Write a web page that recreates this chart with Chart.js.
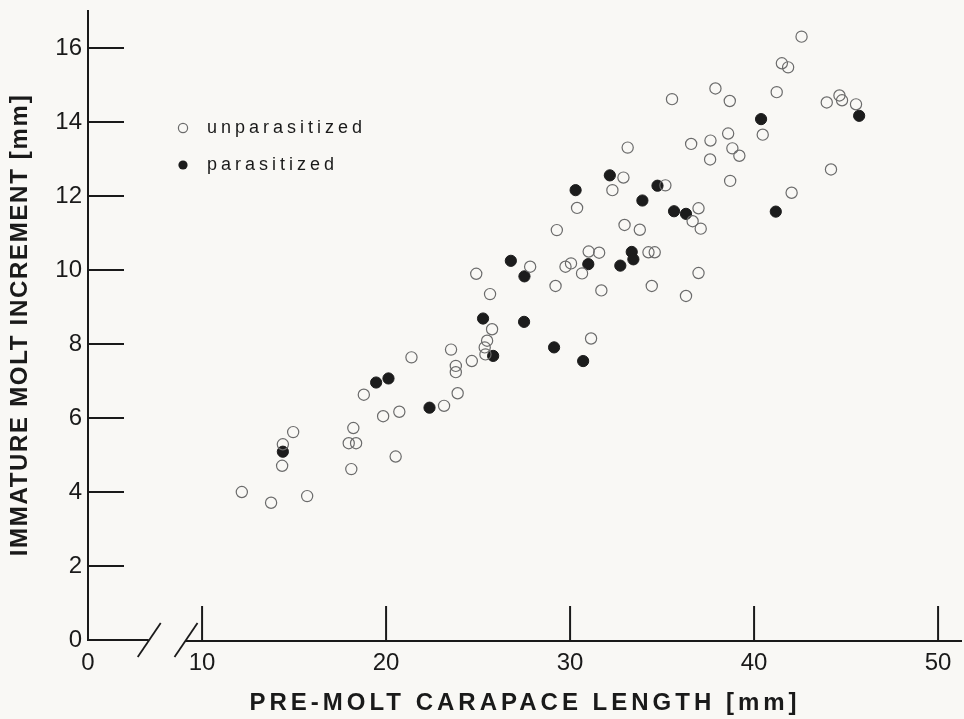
<!DOCTYPE html>
<html>
<head>
<meta charset="utf-8">
<script src="https://cdn.jsdelivr.net/npm/chart.js@4.4.1/dist/chart.umd.min.js"></script>
<style>
html,body{margin:0;padding:0;background:#f9f8f5;}
#wrap{width:964px;height:719px;position:relative;}
</style>
</head>
<body>
<div id="wrap"><canvas id="c" width="964" height="719"></canvas></div>
<script>
// ---- axis definitions ----
const X_ORIGIN = 3.8;            // value sitting at the (broken) origin, labelled "0"
const X_MAX = 51.3;
const Y_MIN = 0;
const Y_MAX = 17.03;
const X_BREAK = [7.1, 9.1];      // gap in the x axis
const xTickValues = [X_ORIGIN, 10, 20, 30, 40, 50];
const xTickLabels = ['0', '10', '20', '30', '40', '50'];
const yTickValues = [0, 2, 4, 6, 8, 10, 12, 14, 16];
const yTickLabels = ['0', '2', '4', '6', '8', '10', '12', '14', '16'];
const xTitle = 'PRE-MOLT CARAPACE LENGTH [mm]';
const yTitle = 'IMMATURE MOLT INCREMENT [mm]';
const seriesNames = ['unparasitized', 'parasitized'];

// ---- data ----
const unparasitizedX = [12.16, 13.75, 15.71, 14.95, 14.39, 14.35, 18.22, 17.97, 18.37, 18.11,
  18.79, 21.38, 19.84, 20.72, 20.52, 23.53, 23.79, 23.79, 24.66, 23.89,
  23.15, 25.49, 25.36, 25.40, 25.76, 25.65, 27.83, 29.21, 29.75, 30.05,
  30.65, 31.01, 31.58, 31.14, 33.13, 32.90, 32.30, 35.18, 36.98, 36.66,
  37.10, 32.96, 33.79, 34.26, 34.60, 36.98, 34.44, 36.30, 30.38, 36.58,
  37.61, 37.63, 38.82, 39.20, 38.70, 35.54, 37.90, 38.68, 38.59, 40.47,
  41.23, 41.51, 41.85, 42.58, 44.18, 43.95, 44.64, 44.78, 45.54, 42.04,
  29.28, 24.90, 31.70];
const unparasitizedY = [4.00, 3.71, 3.89, 5.62, 5.29, 4.71, 5.73, 5.32, 5.32, 4.62,
  6.63, 7.64, 6.05, 6.17, 4.96, 7.85, 7.41, 7.24, 7.54, 6.67,
  6.33, 8.09, 7.91, 7.72, 8.40, 9.35, 10.09, 9.57, 10.09, 10.18,
  9.91, 10.50, 10.47, 8.15, 13.31, 12.50, 12.16, 12.29, 11.67, 11.32,
  11.12, 11.22, 11.09, 10.48, 10.48, 9.92, 9.57, 9.30, 11.68, 13.41,
  12.99, 13.50, 13.29, 13.09, 12.41, 14.62, 14.91, 14.57, 13.69, 13.66,
  14.81, 15.59, 15.48, 16.31, 12.72, 14.53, 14.72, 14.59, 14.48, 12.09,
  11.08, 9.90, 9.45];
const parasitizedX = [14.39, 19.46, 20.13, 22.36, 25.82, 25.27, 26.78, 27.52, 27.50, 29.13,
  30.71, 30.99, 32.16, 30.30, 34.75, 33.93, 35.65, 36.30, 41.18, 33.35,
  33.44, 32.73, 40.38, 45.71];
const parasitizedY = [5.09, 6.96, 7.07, 6.28, 7.68, 8.69, 10.25, 9.83, 8.60, 7.91,
  7.54, 10.16, 12.56, 12.16, 12.28, 11.88, 11.59, 11.52, 11.58, 10.49,
  10.29, 10.12, 14.08, 14.17];

const toPoints = (xs, ys) => xs.map((x, i) => ({x: x, y: ys[i]}));

const INK = '#1a1a1a';
const BG = '#f9f8f5';
const TICK_FONT = {family: '"Liberation Sans Narrow", "Arial Narrow", "Liberation Sans", sans-serif', size: 24};
const TITLE_FONT = {family: '"Liberation Sans", Arial, sans-serif', size: 24, weight: 'bold'};

function spacedTitle(scale, spacing) {
  if (scale._spacedTitle) return;
  const orig = scale.drawTitle;
  scale.drawTitle = function () {
    const ctx = this.ctx;
    const prev = ctx.letterSpacing;
    ctx.letterSpacing = spacing;
    orig.apply(this, arguments);
    ctx.letterSpacing = prev || '0px';
  };
  scale._spacedTitle = true;
}

const bgPlugin = {
  id: 'bg',
  beforeDraw(chart) {
    const ctx = chart.ctx;
    ctx.save();
    ctx.fillStyle = BG;
    ctx.fillRect(0, 0, chart.width, chart.height);
    ctx.restore();
  }
};

const axesPlugin = {
  id: 'brokenAxes',
  beforeDatasetsDraw(chart) {
    const ctx = chart.ctx;
    const xs = chart.scales.x, ys = chart.scales.y;
    const area = chart.chartArea;
    const y0 = ys.getPixelForValue(0);
    const xo = xs.getPixelForValue(X_ORIGIN);
    ctx.save();
    ctx.strokeStyle = INK;
    ctx.lineWidth = 2;
    ctx.lineCap = 'butt';
    // y axis
    ctx.beginPath();
    ctx.moveTo(xo, area.top);
    ctx.lineTo(xo, y0 + 1);
    ctx.stroke();
    // y ticks (pointing into plot)
    yTickValues.forEach(v => {
      if (v === 0) return;
      const py = ys.getPixelForValue(v);
      ctx.beginPath();
      ctx.moveTo(xo, py);
      ctx.lineTo(xo + 36, py);
      ctx.stroke();
    });
    // x axis with break
    const b0 = xs.getPixelForValue(X_BREAK[0]);
    const b1 = xs.getPixelForValue(X_BREAK[1]);
    ctx.beginPath();
    ctx.moveTo(xo, y0);
    ctx.lineTo(b0, y0);
    ctx.moveTo(b1, y0 + 1);
    ctx.lineTo(area.right, y0 + 1);
    ctx.stroke();
    // break slashes
    ctx.lineWidth = 1.8;
    [b0, b1].forEach(bx => {
      ctx.beginPath();
      ctx.moveTo(bx - 11, y0 + 17);
      ctx.lineTo(bx + 12, y0 - 17);
      ctx.stroke();
    });
    // x ticks (pointing into plot)
    ctx.lineWidth = 2;
    xTickValues.forEach(v => {
      if (v === X_ORIGIN) return;
      const px = xs.getPixelForValue(v);
      ctx.beginPath();
      ctx.moveTo(px, y0 + 1);
      ctx.lineTo(px, y0 - 34);
      ctx.stroke();
    });
    ctx.restore();
  }
};

const legendPlugin = {
  id: 'insideLegend',
  afterDraw(chart) {
    const ctx = chart.ctx;
    ctx.save();
    chart.data.datasets.forEach((ds, i) => {
      const cy = 128 + i * 37;
      ctx.beginPath();
      ctx.arc(183, cy, 4.6, 0, Math.PI * 2);
      if (ds.backgroundColor !== 'rgba(0,0,0,0)') {
        ctx.fillStyle = ds.backgroundColor;
        ctx.fill();
      } else {
        ctx.lineWidth = 1.2;
        ctx.strokeStyle = ds.borderColor;
        ctx.stroke();
      }
      ctx.fillStyle = INK;
      ctx.font = '500 18px "Liberation Sans", Arial, sans-serif';
      ctx.letterSpacing = '4px';
      ctx.textBaseline = 'middle';
      ctx.textAlign = 'left';
      ctx.fillText(ds.label, 207, cy);
      ctx.letterSpacing = '0px';
    });
    ctx.restore();
  }
};

new Chart(document.getElementById('c'), {
  type: 'scatter',
  data: {
    datasets: [
      {
        label: seriesNames[0],
        data: toPoints(unparasitizedX, unparasitizedY),
        pointStyle: 'circle',
        pointRadius: 5.6,
        pointBorderWidth: 1.2,
        borderColor: '#6b6b6b',
        backgroundColor: 'rgba(0,0,0,0)'
      },
      {
        label: seriesNames[1],
        data: toPoints(parasitizedX, parasitizedY),
        pointStyle: 'circle',
        pointRadius: 5.6,
        pointBorderWidth: 1,
        borderColor: '#1c1c1c',
        backgroundColor: '#1c1c1c'
      }
    ]
  },
  options: {
    responsive: false,
    animation: false,
    events: [],
    layout: {autoPadding: false, padding: {left: 0, right: 2, top: 10, bottom: 0}},
    plugins: {legend: {display: false}, tooltip: {enabled: false}},
    scales: {
      x: {
        type: 'linear',
        min: X_ORIGIN,
        max: X_MAX,
        grid: {display: false, drawTicks: false},
        border: {display: false},
        afterBuildTicks(scale) { scale.ticks = xTickValues.map(v => ({value: v})); },
        afterFit(scale) {
          scale.height = 79;
          scale.paddingLeft = 0; scale.paddingRight = 0;
          spacedTitle(scale, '4px');
        },
        ticks: {
          autoSkip: false, maxRotation: 0, padding: 9,
          color: INK, font: TICK_FONT,
          callback: (v, i) => xTickLabels[i]
        },
        title: {
          display: true, text: xTitle, color: INK, font: TITLE_FONT,
          padding: {top: 0, bottom: 1}
        }
      },
      y: {
        type: 'linear',
        min: Y_MIN,
        max: Y_MAX,
        grid: {display: false, drawTicks: false},
        border: {display: false},
        afterBuildTicks(scale) { scale.ticks = yTickValues.map(v => ({value: v})); },
        afterFit(scale) {
          scale.width = 88;
          scale.paddingTop = 0; scale.paddingBottom = 0;
          spacedTitle(scale, '1.7px');
        },
        ticks: {
          autoSkip: false, padding: 6,
          color: INK, font: TICK_FONT,
          callback: (v, i) => yTickLabels[i]
        },
        title: {
          display: true, text: yTitle, color: INK, font: TITLE_FONT,
          padding: {top: 6, bottom: 0}
        }
      }
    }
  },
  plugins: [bgPlugin, axesPlugin, legendPlugin]
});
</script>
</body>
</html>
